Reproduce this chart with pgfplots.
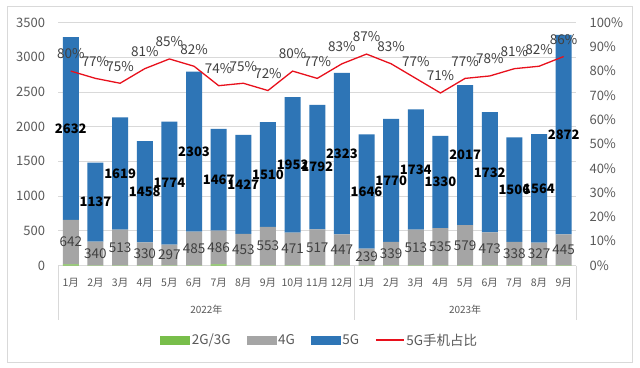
\documentclass[border=0pt]{standalone}
\usepackage{fontspec}
\setmainfont{Noto Sans CJK SC}
\usepackage{pgfplots}
\usepackage{pgfplotstable}
\pgfplotsset{compat=1.18}
\definecolor{cg}{HTML}{78BE4A}
\definecolor{cfour}{HTML}{A5A5A5}
\definecolor{cfive}{HTML}{2E75B6}
\definecolor{cred}{HTML}{E8101C}
\definecolor{gridc}{HTML}{D9D9D9}
\definecolor{tickc}{HTML}{595959}
\definecolor{labc}{HTML}{404040}
\pgfplotstableread{
x g four five pct
0 15 642 2632 80
1 3 340 1137 77
2 3 513 1619 75
3 3 330 1458 81
4 3 297 1774 85
5 3 485 2303 82
6 15 486 1467 74
7 3 453 1427 75
8 3 553 1510 72
9 3 471 1952 80
10 3 517 1792 77
11 3 447 2323 83
12 3 239 1646 87
13 3 339 1770 83
14 3 513 1734 77
15 3 535 1330 71
16 3 579 2017 77
17 3 473 1732 78
18 3 338 1506 81
19 3 327 1564 82
20 3 445 2872 86
}\data
\pgfplotsset{
  /pgf/number format/assume math mode=true,
  /pgf/number format/1000 sep={},
  base/.style={scale only axis, width=517.5pt, height=243pt,
    at={(58.5pt,101.5pt)}, anchor=south west, xmin=-0.5, xmax=20.5,
    clip=false, axis line style={draw=none}, major tick length=0pt,
    tick label style={font=\fontsize{13}{15}\selectfont, text=tickc}},
}
\begin{document}
\begin{tikzpicture}
\path[use as bounding box] (0pt,0pt) rectangle (640pt,367pt);
\fill[white] (0pt,0pt) rectangle (640pt,367pt);
\draw[gridc, line width=0.8pt] (7pt,5pt) rectangle (632pt,361pt);
% bars
\begin{axis}[base, ybar stacked, bar width=16pt, ymin=0, ymax=3500,
  ytick={0,500,...,3500}, ymajorgrids, grid style={draw=gridc, line width=0.8pt},
  xtick={0,...,20},
  xticklabels={1月,2月,3月,4月,5月,6月,7月,8月,9月,10月,11月,12月,1月,2月,3月,4月,5月,6月,7月,8月,9月},
  xticklabel style={font=\fontsize{10.5}{12}\selectfont, yshift=-9pt},
  yticklabel style={xshift=-10pt}]
\addplot[fill=cg, draw=none] table[x=x, y=g]{\data};
\addplot[fill=cfour, draw=none] table[x=x, y=four]{\data};
\addplot[fill=cfive, draw=none] table[x=x, y=five]{\data};
\draw[gridc, line width=0.8pt] (axis cs:-0.5,0) -- ++(0pt,-54.5pt);
\draw[gridc, line width=0.8pt] (axis cs:11.5,0) -- ++(0pt,-54.5pt);
\draw[gridc, line width=0.8pt] (axis cs:20.5,0) -- ++(0pt,-54.5pt);
\node[text=tickc, font=\fontsize{10}{12}\selectfont] at ([yshift=-44.5pt]axis cs:5.5,0) {2022年};
\node[text=tickc, font=\fontsize{10}{12}\selectfont] at ([yshift=-44.5pt]axis cs:16,0) {2023年};
\end{axis}
% share line
\begin{axis}[base, ymin=0, ymax=100, xtick=\empty, ytick={0,10,...,100},
  yticklabel pos=right, yticklabel={\pgfmathprintnumber{\tick}\%},
  yticklabel style={xshift=10pt, anchor=west},
  legend columns=4,
  legend style={at={(0.505,-0.307)}, anchor=center, draw=none, fill=none,
    font=\fontsize{13.5}{15}\selectfont, text=tickc,
    /tikz/every even column/.append style={column sep=14pt},
    nodes={inner sep=2pt}}]
\addlegendimage{legend image code/.code={\fill[cg] (0pt,-4pt) rectangle (29pt,4pt);}}
\addlegendentry{2G/3G}
\addlegendimage{legend image code/.code={\fill[cfour] (0pt,-4pt) rectangle (29pt,4pt);}}
\addlegendentry{4G}
\addlegendimage{legend image code/.code={\fill[cfive] (0pt,-4pt) rectangle (29pt,4pt);}}
\addlegendentry{5G}
\addlegendimage{legend image code/.code={\draw[cred, line width=1.3pt] (0pt,0pt) -- (28pt,0pt);}}
\addlegendentry{5G手机占比}
\addplot[cred, line width=1.3pt, mark=none, point meta=explicit,
  nodes near coords={\pgfmathprintnumber{\pgfplotspointmeta}\%},
  nodes near coords style={anchor=south, yshift=8pt, text=labc, font=\fontsize{13.5}{15}\selectfont}]
  table[x=x, y=pct, meta=pct]{\data};
\end{axis}
% value labels
\begin{axis}[base, ymin=0, ymax=3500, hide axis]
\addplot[draw=none, mark=none, point meta=explicit, nodes near coords,
  nodes near coords style={anchor=center, text=black, font=\fontsize{13}{15}\selectfont\bfseries}]
  table[x=x, y expr=\thisrow{g}+\thisrow{four}+0.5*\thisrow{five}, meta=five]{\data};
\addplot[draw=none, mark=none, point meta=explicit, nodes near coords,
  nodes near coords style={anchor=center, text=labc, font=\fontsize{13.5}{15}\selectfont}]
  table[x=x, y expr=\thisrow{g}+0.5*\thisrow{four}, meta=four]{\data};
\end{axis}
\end{tikzpicture}
\end{document}
